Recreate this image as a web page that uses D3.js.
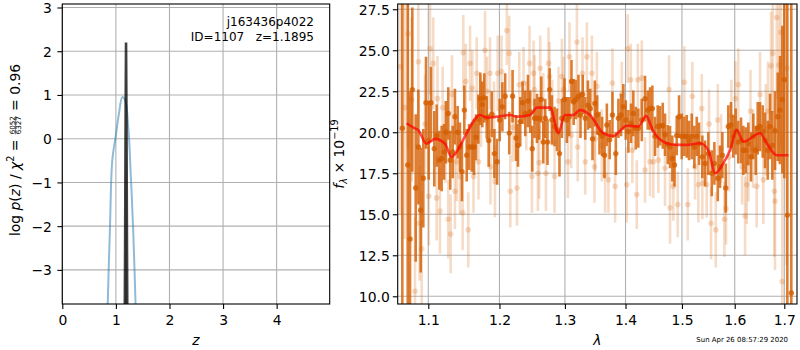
<!DOCTYPE html>
<html>
<head>
<meta charset="utf-8">
<script src="https://cdn.jsdelivr.net/npm/d3@7"></script>
<style>
  body { margin: 0; background: #fff; }
  svg { display: block; font-family: "DejaVu Sans", sans-serif; }
</style>
</head>
<body>
<svg id="chart" width="800" height="350"></svg>
<script>
// --- Redshift fit (left panel) ---
const zTicks = [0, 1, 2, 3, 4];
const logPTicks = [-3, -2, -1, 0, 1, 2, 3];
const coarseZ = [0.84, 0.89, 0.933, 0.996, 1.058, 1.119, 1.17, 1.231, 1.282, 1.325, 1.375];
const coarseLogP = [-4.1, -2.0, -0.49, 0.05, 0.58, 0.95, 0.89, 0.27, -0.94, -2.16, -4.1];
const fineZ = [1.160, 1.172, 1.182, 1.1895, 1.197, 1.207, 1.219];
const fineLogP = [-5.5, -2.5, 0.6, 2.2, 0.6, -2.5, -5.5];
const labelLines = ["j163436p4022", "ID=1107   z=1.1895"];
const chi2Num = "6052", chi2Den = "6327", chi2Val = "0.96";

// --- Spectrum (right panel) ---
const waveTicks = [1.1, 1.2, 1.3, 1.4, 1.5, 1.6, 1.7];
const fluxTicks = [10, 12.5, 15, 17.5, 20, 22.5, 25, 27.5];

const darkWave = [1.0656,1.0727,1.0757,1.0787,1.0832,1.0867,1.0898,1.0933,1.0969,1.1005,
  1.1036,1.1081,1.1113,1.1149,1.1181,1.1213,1.1240,1.1272,1.1299,1.1333,
  1.1364,1.1402,1.1434,1.1462,1.1495,1.1529,1.1562,1.1600,1.1633,1.1661,
  1.1694,1.1722,1.1751,1.1780,1.1815,1.1843,1.1887,1.1926,1.1965,1.2003,
  1.2043,1.2084,1.2145,1.2194,1.2245,1.2275,1.2309,1.2344,1.2385,1.2426,
  1.2460,1.2491,1.2526,1.2563,1.2598,1.2629,1.2660,1.2691,1.2726,1.2760,
  1.2795,1.2836,1.2874,1.2914,1.2952,1.2993,1.3031,1.3068,1.3105,1.3140,
  1.3175,1.3217,1.3250,1.3286,1.3327,1.3371,1.3408,1.3446,1.3485,1.3523,
  1.3561,1.3605,1.3644,1.3684,1.3731,1.3778,1.3835,1.3879,1.3924,1.3963,
  1.4004,1.4049,1.4095,1.4134,1.4176,1.4221,1.4281,1.4338,1.4385,1.4426,
  1.4467,1.4514,1.4562,1.4604,1.4652,1.4693,1.4741,1.4783,1.4825,1.4865,
  1.4905,1.4947,1.4996,1.5044,1.5088,1.5130,1.5180,1.5229,1.5274,1.5317,
  1.5379,1.5430,1.5492,1.5557,1.5607,1.5672,1.5715,1.5760,1.5825,1.5875,
  1.5927,1.5972,1.6019,1.6070,1.6124,1.6169,1.6216,1.6268,1.6322,1.6368,
  1.6416,1.6456,1.6502,1.6557,1.6604,1.6659,1.6706,1.6753,1.6808,1.6864,
  1.6911,1.6959,1.7000,1.7063,1.7146];
const darkFlux = [20.25,18.0,13.5,22.6,16.6,19.1,15.25,17.2,21.8,19.5,
  21.8,19.0,19.8,18.3,18.4,18.8,20.0,21.15,18.3,18.8,
  20.95,20.0,19.1,17.6,21.35,18.6,19.1,19.1,19.1,19.7,
  20.8,22.05,21.7,22.1,20.9,19.5,21.1,18.7,18.2,20.75,
  21.55,22.2,19.95,22.2,19.65,19.2,20.65,21.8,21.15,21.9,
  21.25,19.0,20.85,20.85,20.85,22.0,19.4,20.85,19.4,22.6,
  20.75,20.35,20.15,18.7,20.85,22.0,20.75,20.95,23.1,21.85,
  22.0,22.2,21.05,22.3,20.85,21.65,21.45,19.6,21.75,21.05,
  19.95,19.75,18.6,20.45,19.55,21.05,18.7,20.85,21.05,21.55,
  20.75,20.05,20.55,21.15,20.25,20.25,20.75,22.05,21.35,21.45,
  21.45,19.75,20.35,20.4,20.4,19.85,19.25,19.1,18.4,18.0,
  19.8,20.95,19.75,19.75,19.75,19.5,19.75,19.1,19.75,19.3,
  18.5,18.1,18.7,17.5,18.1,17.2,17.9,18.6,16.6,20.35,
  20.45,19.75,20.05,19.4,19.5,18.9,18.9,19.3,18.5,19.75,
  18.9,20.25,20.35,20.05,19.5,18.9,20.35,19.2,20.1,20.95,
  21.35,22.0,23.2,14.95,10.2];
const darkErr = [14,11,9,5,4.5,3.5,3.8,3.0,2.8,2.4,
  2.2,2.3,1.9,1.8,2.0,1.7,1.9,1.6,1.8,1.6,
  1.7,1.6,1.5,1.8,1.5,1.6,1.4,1.5,1.7,1.4,
  1.5,1.6,1.4,1.5,1.3,1.6,1.4,1.5,1.4,1.3,
  1.5,1.4,1.3,1.6,1.4,1.3,1.5,1.3,1.4,1.6,
  1.3,1.4,1.2,1.5,1.3,1.4,1.3,1.2,1.4,1.3,
  1.5,1.2,1.3,1.4,1.2,1.3,1.4,1.2,1.3,1.4,
  1.2,1.3,1.4,1.2,1.3,1.5,1.2,1.3,1.4,1.2,
  1.3,1.2,1.4,1.3,1.2,1.4,1.3,1.2,1.3,1.4,
  1.2,1.3,1.2,1.4,1.3,1.2,1.3,1.4,1.2,1.3,
  1.4,1.2,1.3,1.2,1.4,1.3,1.2,1.3,1.4,1.3,
  1.2,1.3,1.4,1.2,1.3,1.2,1.4,1.3,1.2,1.3,
  1.3,1.4,1.3,1.4,1.3,1.4,1.3,1.4,1.5,1.3,
  1.4,1.3,1.4,1.3,1.4,1.5,1.4,1.3,1.5,1.4,
  1.5,1.6,1.5,1.6,1.7,1.8,2.0,2.1,2.4,2.7,
  3.3,4.5,6,14,20];

const lightWave = [1.0633,1.0685,1.0731,1.0779,1.0823,1.0867,1.0883,1.0912,1.0956,1.1007,
  1.1023,1.1067,1.1113,1.1124,1.1158,1.1195,1.1233,1.1272,1.1305,1.1323,
  1.1364,1.1388,1.1434,1.1472,1.1481,1.1515,1.1551,1.1576,1.1608,1.1625,
  1.1671,1.1697,1.1732,1.1790,1.1819,1.1862,1.1869,1.1920,1.1935,1.1974,
  1.2030,1.2109,1.2145,1.2160,1.2197,1.2260,1.2294,1.2359,1.2400,1.2450,
  1.2486,1.2511,1.2526,1.2578,1.2598,1.2613,1.2660,1.2702,1.2742,1.2758,
  1.2800,1.2836,1.2899,1.2952,1.2977,1.3047,1.3073,1.3100,1.3192,1.3205,
  1.3283,1.3327,1.3354,1.3436,1.3479,1.3490,1.3518,1.3600,1.3655,1.3710,
  1.3778,1.3823,1.3936,1.4021,1.4038,1.4090,1.4118,1.4194,1.4212,1.4281,
  1.4338,1.4426,1.4484,1.4573,1.4693,1.4765,1.4783,1.4843,1.4923,1.5044,
  1.5107,1.5192,1.5242,1.5304,1.5368,1.5379,1.5461,1.5505,1.5543,1.5634,
  1.5672,1.5735,1.5799,1.5831,1.5889,1.5935,1.6015,1.6070,1.6144,1.6204,
  1.6238,1.6270,1.6312,1.6362,1.6436,1.6502,1.6570,1.6619,1.6665,1.6727,
  1.6762,1.6794,1.6808,1.6843,1.6890,1.6931,1.6957,1.7048];
const lightFlux = [24.0,21.5,26.0,22.0,10.3,24.3,14.45,12.9,20.5,16.1,
  25.1,24.2,16.0,22.05,15.2,21.5,19.4,14.7,13.8,22.3,
  16.4,18.2,17.3,15.1,24.85,23.1,14.05,24.2,22.7,17.3,
  23.6,18.2,21.3,25.0,22.5,23.6,17.9,21.0,17.0,23.6,
  23.7,26.2,24.8,16.4,20.3,16.6,22.9,23.0,21.0,24.2,
  17.3,23.6,22.6,17.5,18.15,23.9,21.5,17.5,24.2,23.4,
  21.2,17.3,21.9,23.4,22.6,18.2,24.6,19.8,25.5,19.1,
  23.6,18.2,24.6,23.6,17.9,19.6,22.8,19.2,17.4,17.1,
  23.0,16.7,22.3,16.8,25.1,23.2,18.9,16.2,23.2,23.3,
  17.7,18.2,18.2,18.3,17.8,22.6,15.4,16.7,15.6,23.05,
  15.6,22.2,17.9,16.8,21.45,16.9,16.8,20.5,14.45,14.05,
  20.75,19.0,14.7,15.35,18.5,21.0,22.05,22.9,17.9,14.9,
  16.8,18.1,21.3,19.0,16.7,22.3,17.1,20.15,21.3,24.05,
  24.8,16.4,15.8,27.0,24.1,26.1,10.9,23.9];
const lightErr = [9,8,7,5,4.5,4,3.5,3.5,3,3,
  2.8,2.8,2.6,2.6,2.6,2.5,2.5,2.4,2.4,2.4,
  2.3,2.4,2.3,2.3,2.3,2.3,2.3,2.3,2.3,2.2,
  2.2,2.3,2.2,2.4,2.1,2.2,2.3,2.1,2.2,2.3,
  2.2,2.1,2.3,2.2,2.1,2.3,2.0,2.2,2.1,2.3,
  2.2,2.0,2.1,2.3,2.2,2.0,2.1,2.3,2.2,2.1,
  2.0,2.2,2.1,2.3,2.0,2.2,2.1,2.0,2.3,2.1,
  2.2,2.0,2.1,2.3,2.2,2.0,2.1,2.2,2.3,2.0,
  2.1,2.2,2.0,2.3,2.1,2.2,2.0,2.1,2.2,2.3,
  2.0,2.1,2.2,2.0,2.3,2.1,2.2,2.1,2.0,2.2,
  2.2,2.1,2.0,2.3,2.1,2.2,2.0,2.1,2.2,2.3,
  2.2,2.1,2.3,2.2,2.1,2.2,2.3,2.2,2.3,2.4,
  2.4,2.3,2.5,2.4,2.5,2.6,2.7,2.8,3.0,3.3,
  3.6,4,4.2,5,6,7,9,12];

const modelWave = [1.0713,1.0796,1.0862,1.0978,1.1090,1.1226,1.1318,1.1387,1.1529,1.1718,
  1.1814,1.1960,1.2160,1.2259,1.2460,1.2562,1.2768,1.2898,1.2998,1.3132,
  1.3242,1.3405,1.3625,1.3793,1.4020,1.4222,1.4355,1.4484,1.4723,1.4904,
  1.5089,1.5336,1.5493,1.5620,1.5778,1.5908,1.6039,1.6169,1.6503,1.6639,
  1.6843,1.7086];
const modelFlux = [20.55,20.3,20.15,19.3,19.6,19.3,18.5,18.8,19.95,21.05,
  20.9,20.95,21.05,20.95,21.05,21.5,21.5,19.95,21.05,21.05,
  21.35,21.05,19.94,19.77,20.4,20.35,21.0,20.05,19.33,19.23,
  19.23,19.33,18.9,17.5,18.1,18.9,20.15,19.43,19.94,19.33,
  18.6,18.6];

const timestamp = "Sun Apr 26 08:57:29 2020";

// --- Setup ---
const svg = d3.select("#chart");
const fs = 13.9;
const gridColor = "#b0b0b0";
const grismColor = "#d55e00";

svg.append("rect").attr("width", 800).attr("height", 350).attr("fill", "#fff");

const L = {x0: 62.3, x1: 329.7, y0: 4, y1: 304};
const R = {x0: 397.7, x1: 797, y0: 4, y1: 304};

const xZ = d3.scaleLinear().domain([0, 4.99]).range([L.x0, L.x1]);
const yP = d3.scaleLinear().domain([-3.78, 3.08]).range([L.y1, L.y0]);
const xW = d3.scaleLog().domain([1.0596, 1.7266]).range([R.x0, R.x1]);
const yF = d3.scaleLinear().domain([9.53, 27.82]).range([R.y1, R.y0]);

const defs = svg.append("defs");
[["clipL", L], ["clipR", R]].forEach(([id, b]) => {
  defs.append("clipPath").attr("id", id)
    .append("rect")
    .attr("x", b.x0).attr("y", b.y0)
    .attr("width", b.x1 - b.x0).attr("height", b.y1 - b.y0);
});

// grid lines
function grid(b, xs, xTicks, ys, yTicks) {
  const g = svg.append("g").attr("stroke", gridColor).attr("stroke-width", 1.1);
  xTicks.forEach(t => g.append("line")
    .attr("x1", xs(t)).attr("x2", xs(t)).attr("y1", b.y0).attr("y2", b.y1));
  yTicks.forEach(t => g.append("line")
    .attr("x1", b.x0).attr("x2", b.x1).attr("y1", ys(t)).attr("y2", ys(t)));
}
grid(L, xZ, zTicks, yP, logPTicks);
grid(R, xW, waveTicks, yF, fluxTicks);

// axes
function axes(b, xs, xTicks, xFmt, ys, yTicks, yFmt, yPad) {
  const style = a => {
    a.select(".domain").remove();
    a.attr("font-size", fs).attr("font-family", "DejaVu Sans");
    a.selectAll("text").attr("fill", "#000");
    a.selectAll("line").attr("stroke", "#000").attr("stroke-width", 1.1);
  };
  svg.append("g")
    .attr("transform", `translate(0,${b.y1})`)
    .call(d3.axisBottom(xs).tickValues(xTicks).tickFormat(xFmt).tickSize(4.9).tickPadding(6.2))
    .call(style);
  svg.append("g")
    .attr("transform", `translate(${b.x0},0)`)
    .call(d3.axisLeft(ys).tickValues(yTicks).tickFormat(yFmt).tickSize(4.9).tickPadding(yPad))
    .call(style)
    .call(a => a.selectAll("text").attr("dy", "0.36em"));
}

// --- Left panel marks ---
const gL = svg.append("g").attr("clip-path", "url(#clipL)");

gL.append("path")
  .datum(d3.zip(coarseZ, coarseLogP))
  .attr("fill", "none")
  .attr("stroke", "#1f77b4")
  .attr("stroke-opacity", 0.5)
  .attr("stroke-width", 2)
  .attr("d", d3.line().x(d => xZ(d[0])).y(d => yP(d[1])).curve(d3.curveCatmullRom));

const fine = d3.zip(fineZ, fineLogP);
gL.append("path")
  .datum(fine)
  .attr("fill", "#000")
  .attr("fill-opacity", 0.3)
  .attr("d", d3.area().x(d => xZ(d[0])).y0(L.y1 + 5).y1(d => yP(d[1])));
gL.append("path")
  .datum(fine)
  .attr("fill", "none")
  .attr("stroke", "#000")
  .attr("stroke-opacity", 0.75)
  .attr("stroke-width", 2.6)
  .attr("d", d3.line().x(d => xZ(d[0])).y(d => yP(d[1])));

// --- Right panel marks ---
const gR = svg.append("g").attr("clip-path", "url(#clipR)");

function errorbars(wave, flux, err, opacity, barWidth, r) {
  const pts = d3.range(wave.length).map(i => ({w: wave[i], f: flux[i], e: err[i]}));
  const g = gR.append("g");
  g.selectAll("line")
    .data(pts)
    .join("line")
    .attr("x1", d => xW(d.w)).attr("x2", d => xW(d.w))
    .attr("y1", d => yF(d.f - d.e)).attr("y2", d => yF(d.f + d.e))
    .attr("stroke", grismColor)
    .attr("stroke-opacity", opacity)
    .attr("stroke-width", barWidth);
  g.selectAll("circle")
    .data(pts)
    .join("circle")
    .attr("cx", d => xW(d.w))
    .attr("cy", d => yF(d.f))
    .attr("r", r)
    .attr("fill", grismColor)
    .attr("fill-opacity", opacity);
}
errorbars(lightWave, lightFlux, lightErr, 0.22, 2.6, 2.8);
errorbars(darkWave, darkFlux, darkErr, 0.8, 2.6, 2.7);

gR.append("path")
  .datum(d3.zip(modelWave, modelFlux))
  .attr("fill", "none")
  .attr("stroke", "red")
  .attr("stroke-opacity", 0.7)
  .attr("stroke-width", 2.6)
  .attr("stroke-linejoin", "round")
  .attr("d", d3.line().x(d => xW(d[0])).y(d => yF(d[1])).curve(d3.curveMonotoneX));

// axes + frames on top
axes(L, xZ, zTicks, d3.format("d"), yP, logPTicks, d3.format("d"), 5.5);
axes(R, xW, waveTicks, d3.format(".1f"), yF, fluxTicks, d3.format(".1f"), 3);
[L, R].forEach(b => svg.append("rect")
  .attr("x", b.x0).attr("y", b.y0)
  .attr("width", b.x1 - b.x0).attr("height", b.y1 - b.y0)
  .attr("fill", "none").attr("stroke", "#000").attr("stroke-width", 1.1));

// --- Text ---
labelLines.forEach((s, i) => svg.append("text")
  .attr("x", 314).attr("y", 26 + i * 14.5)
  .attr("text-anchor", "end")
  .attr("font-size", 12)
  .style("white-space", "pre")
  .text(s));

// x labels
svg.append("text").attr("x", (L.x0 + L.x1) / 2).attr("y", 345)
  .attr("text-anchor", "middle").attr("font-size", fs).attr("font-style", "italic").text("z");
svg.append("text").attr("x", (R.x0 + R.x1) / 2).attr("y", 345)
  .attr("text-anchor", "middle").attr("font-size", fs).attr("font-style", "italic").text("λ");

// left y label: log p(z) / χ² = num/den = val
const yl = svg.append("g").attr("transform", "translate(20,150) rotate(-90)");
const ylIn = yl.append("g");
const tA = ylIn.append("text").attr("font-size", fs);
tA.append("tspan").text("log ");
tA.append("tspan").attr("font-style", "italic").text("p");
tA.append("tspan").text("(");
tA.append("tspan").attr("font-style", "italic").text("z");
tA.append("tspan").style("white-space", "pre").text(") / ");
tA.append("tspan").attr("font-style", "italic").text("χ");
tA.append("tspan").attr("font-size", fs * 0.7).attr("dy", -0.42 * fs).text("2");
tA.append("tspan").attr("dy", 0.42 * fs).style("white-space", "pre").text(" = ");
const wA = tA.node().getComputedTextLength();
const fracFs = 7.2;
const num = ylIn.append("text").attr("font-size", fracFs).attr("text-anchor", "middle").attr("y", -5).text(chi2Num);
const den = ylIn.append("text").attr("font-size", fracFs).attr("text-anchor", "middle").attr("y", 0.8).text(chi2Den);
const wF = Math.max(num.node().getComputedTextLength(), den.node().getComputedTextLength()) + 1.5;
num.attr("x", wA + wF / 2);
den.attr("x", wA + wF / 2);
ylIn.append("line")
  .attr("x1", wA + 0.75).attr("x2", wA + wF - 0.75)
  .attr("y1", -4.4).attr("y2", -4.4)
  .attr("stroke", "#000").attr("stroke-width", 0.5);
const tB = ylIn.append("text").attr("font-size", fs).attr("x", wA + wF)
  .style("white-space", "pre").text(" = " + chi2Val);
const wTot = wA + wF + tB.node().getComputedTextLength();
ylIn.attr("transform", `translate(${-wTot / 2},0)`);

// right y label: f_λ × 10^-19
const yr = svg.append("text")
  .attr("transform", "translate(344,154) rotate(-90)")
  .attr("text-anchor", "middle")
  .attr("font-size", fs);
yr.append("tspan").attr("font-style", "italic").text("f");
yr.append("tspan").attr("font-style", "italic").attr("font-size", fs * 0.7).attr("dy", 0.22 * fs).text("λ");
yr.append("tspan").attr("dy", -0.22 * fs).text(" × 10");
yr.append("tspan").attr("font-size", fs * 0.7).attr("dy", -0.42 * fs).text("−19");

// timestamp
svg.append("text").attr("x", 788).attr("y", 341.5)
  .attr("text-anchor", "end").attr("font-size", 6.94)
  .text(timestamp);
</script>
</body>
</html>
